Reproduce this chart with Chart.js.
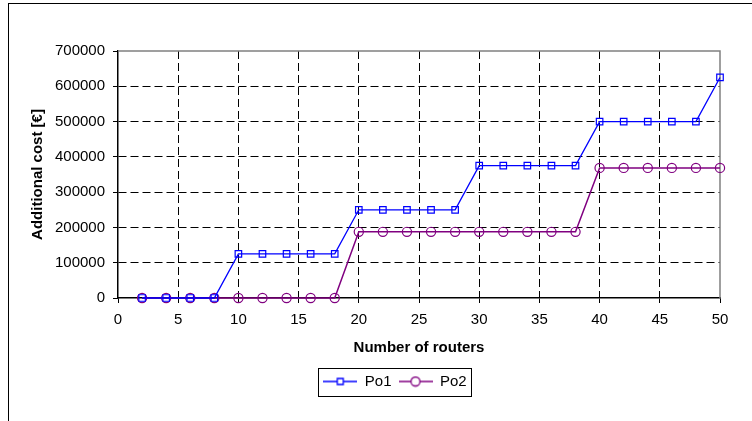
<!DOCTYPE html>
<html>
<head>
<meta charset="utf-8">
<script src="https://cdn.jsdelivr.net/npm/chart.js@4"></script>
<style>
  html, body { margin: 0; padding: 0; overflow: hidden; background: #fff; }
  #frame { position: absolute; left: 8px; top: 3px; width: 900px; height: 600px;
           border-left: 1px solid #000; border-top: 1px solid #000; }
  #costChart { position: absolute; left: 0; top: 0; }
</style>
</head>
<body>
<div id="frame"></div>
<canvas id="costChart" width="752" height="421"></canvas>
<script>
// number of routers on the x axis
const routers = [2, 4, 6, 8, 10, 12, 14, 16, 18, 20, 22, 24, 26, 28, 30, 32, 34, 36, 38, 40, 42, 44, 46, 48, 50];
const po1 = [0, 0, 0, 0, 125000, 125000, 125000, 125000, 125000, 250000, 250000, 250000, 250000, 250000,
             375000, 375000, 375000, 375000, 375000, 500000, 500000, 500000, 500000, 500000, 625000];
const po2 = [0, 0, 0, 0, 0, 0, 0, 0, 0, 187500, 187500, 187500, 187500, 187500,
             187500, 187500, 187500, 187500, 187500, 368750, 368750, 368750, 368750, 368750, 368750];
const seriesNames = ['Po1', 'Po2'];

const FONT = "'Liberation Sans', Arial, sans-serif";

function makeIcon(color, style) {
    const c = document.createElement('canvas');
    c.width = 34;
    c.height = 12;
    const g = c.getContext('2d');
    g.strokeStyle = color;
    g.lineWidth = 1.3;
    g.beginPath();
    g.moveTo(0, 6);
    g.lineTo(34, 6);
    g.stroke();
    g.fillStyle = '#fff';
    g.beginPath();
    if (style === 'rect') {
        g.rect(14, 3, 6, 6);
    } else {
        g.arc(17, 6, 4.5, 0, Math.PI * 2);
    }
    g.fill();
    g.stroke();
    return c;
}
const legendIcons = [makeIcon('#0000ff', 'rect'), makeIcon('#800080', 'circle')];

// gray frame on top and right of the plot area, box around the legend
const framePlugin = {
    id: 'frames',
    afterLayout(chart) {
        // the original legend sits a bit right of the page centre
        chart.legend.left = 70;
    },
    beforeDatasetsDraw(chart) {
        const {ctx, chartArea: a} = chart;
        ctx.save();
        ctx.strokeStyle = '#808080';
        ctx.lineWidth = 1.5;
        ctx.beginPath();
        ctx.moveTo(a.left, a.top);
        ctx.lineTo(a.right, a.top);
        ctx.lineTo(a.right, a.bottom);
        ctx.stroke();
        ctx.restore();
    },
    afterDraw(chart) {
        const boxes = chart.legend.legendHitBoxes;
        if (!boxes || !boxes.length) return;
        const first = boxes[0];
        const last = boxes[boxes.length - 1];
        const cy = first.top + first.height / 2;
        const ctx = chart.ctx;
        ctx.save();
        ctx.strokeStyle = '#000';
        ctx.lineWidth = 1;
        ctx.strokeRect(Math.round(first.left - 5) + 0.5, Math.round(cy - 14) + 0.5,
                       Math.round(last.left + last.width - first.left + 10), 28);
        ctx.restore();
    }
};

const ctx = document.getElementById('costChart').getContext('2d');
new Chart(ctx, {
    type: 'line',
    data: {
        datasets: [{
            label: seriesNames[0],
            data: routers.map((r, i) => ({x: r, y: po1[i]})),
            borderColor: '#0000ff',
            borderWidth: 1.3,
            pointStyle: 'rect',
            pointRadius: 4.6,
            pointBorderWidth: 1.2,
            pointBorderColor: '#0000ff',
            pointBackgroundColor: 'rgba(255,255,255,0)',
            tension: 0,
            clip: false
        }, {
            label: seriesNames[1],
            data: routers.map((r, i) => ({x: r, y: po2[i]})),
            borderColor: '#800080',
            borderWidth: 1.5,
            pointStyle: 'circle',
            pointRadius: 4.6,
            pointBorderWidth: 1.2,
            pointBorderColor: '#800080',
            pointBackgroundColor: 'rgba(255,255,255,0)',
            tension: 0,
            clip: false
        }]
    },
    options: {
        responsive: false,
        animation: false,
        layout: { padding: { top: 51, right: 32, bottom: 22, left: 0 } },
        scales: {
            x: {
                type: 'linear',
                min: 0,
                max: 50,
                afterFit: scale => { scale.height = 69; },
                ticks: {
                    stepSize: 5,
                    padding: 8,
                    color: '#000',
                    font: { family: FONT, size: 15 }
                },
                grid: {
                    color: c => (c.tick && (c.tick.value === 0 || c.tick.value === 50)) ? 'rgba(0,0,0,0)' : '#000',
                    lineWidth: 1,
                    tickColor: '#000',
                    tickLength: 5
                },
                border: { display: true, color: '#000', width: 1.5, dash: [8, 4] },
                title: {
                    display: true,
                    text: 'Number of routers',
                    color: '#000',
                    font: { family: FONT, size: 15, weight: 'bold' },
                    padding: { top: 0, bottom: 10 }
                }
            },
            y: {
                min: 0,
                max: 700000,
                afterFit: scale => { scale.width = 118; },
                ticks: {
                    stepSize: 100000,
                    padding: 8,
                    color: '#000',
                    font: { family: FONT, size: 15 },
                    callback: v => String(v)
                },
                grid: {
                    color: c => (c.tick && (c.tick.value === 0 || c.tick.value === 700000)) ? 'rgba(0,0,0,0)' : '#000',
                    lineWidth: 1,
                    tickColor: '#000',
                    tickLength: 5
                },
                border: { display: true, color: '#000', width: 1.5, dash: [8, 4] },
                title: {
                    display: true,
                    text: 'Additional cost [€]',
                    color: '#000',
                    font: { family: FONT, size: 15, weight: 'bold' },
                    padding: { top: 29, bottom: 0 }
                }
            }
        },
        plugins: {
            legend: {
                position: 'bottom',
                labels: {
                    usePointStyle: true,
                    pointStyleWidth: 34,
                    padding: 7,
                    color: '#000',
                    font: { family: FONT, size: 15 },
                    generateLabels: chart => {
                        const items = Chart.defaults.plugins.legend.labels.generateLabels(chart);
                        items.forEach((it, i) => { it.pointStyle = legendIcons[i]; });
                        return items;
                    }
                }
            },
            tooltip: { enabled: false }
        }
    },
    plugins: [framePlugin]
});
</script>
</body>
</html>
